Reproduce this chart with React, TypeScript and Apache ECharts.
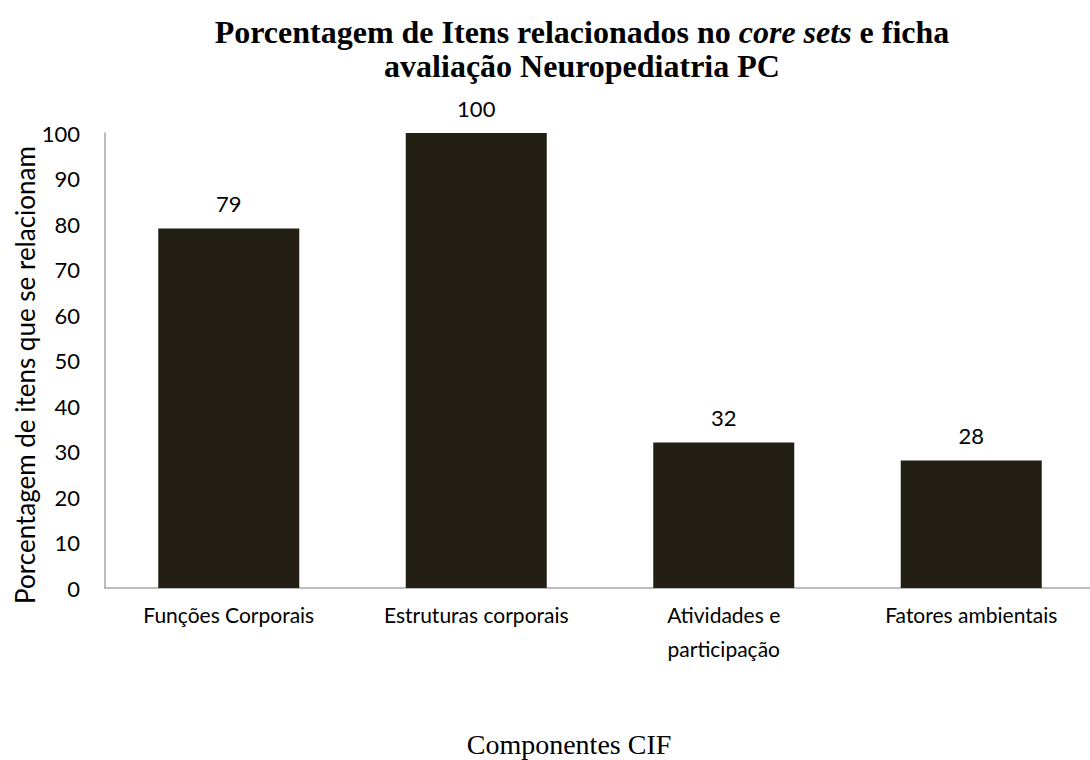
import React, { useEffect, useRef } from "react";
import * as echarts from "echarts";

const categories = ["Funções Corporais", "Estruturas corporais", "Atividades e\nparticipação", "Fatores ambientais"];
const values = [79, 100, 32, 28];
const yTicks = { min: 0, max: 100, interval: 10 };
const yAxisTitle = "Porcentagem de itens que se relacionam";
const xAxisTitle = "Componentes CIF";

export default function App() {
  const ref = useRef<HTMLDivElement>(null);
  useEffect(() => {
    if (!ref.current) return;
    const chart = echarts.init(ref.current, undefined, { renderer: "svg" });
    const sans = "Lato, 'Open Sans', sans-serif";
    const serif = "'Liberation Serif', 'Times New Roman', serif";
    chart.setOption({
      animation: false,
      backgroundColor: "#ffffff",
      title: {
        text: "{b|Porcentagem de Itens relacionados no }{i|core sets}{b| e ficha}\n{b|avaliação Neuropediatria PC}",
        left: 577,
        top: 10,
        textAlign: "center",
        textStyle: {
          rich: {
            b: { fontFamily: serif, fontWeight: "bold", fontSize: 32, color: "#000", lineHeight: 34 },
            i: { fontFamily: serif, fontWeight: "bold", fontStyle: "italic", fontSize: 32, color: "#000", lineHeight: 34 },
          },
        },
      },
      grid: { left: 105, right: -5, top: 133, bottom: 172, containLabel: false, outerBoundsMode: "none" },
      graphic: [
        {
          type: "text",
          x: 25,
          y: 375,
          rotation: Math.PI / 2,
          style: {
            text: yAxisTitle,
            fontFamily: sans,
            fontSize: 26,
            fill: "#000",
            align: "center",
            verticalAlign: "middle",
          },
        },
        {
          type: "text",
          x: 569,
          y: 744,
          style: {
            text: xAxisTitle,
            fontFamily: serif,
            fontSize: 28,
            fill: "#000",
            align: "center",
            verticalAlign: "middle",
          },
        },
      ],
      xAxis: {
        type: "category",
        data: categories,
        axisLine: { show: true, lineStyle: { color: "#a6a6a6", width: 1.5 } },
        axisTick: { show: false },
        axisLabel: {
          interval: 0,
          margin: 9,
          color: "#000",
          fontFamily: sans,
          fontSize: 21,
          lineHeight: 34,
        },
      },
      yAxis: {
        type: "value",
        min: yTicks.min,
        max: yTicks.max,
        interval: yTicks.interval,
        splitLine: { show: false },
        axisLine: { show: true, lineStyle: { color: "#a6a6a6", width: 1.5 } },
        axisTick: { show: false },
        axisLabel: { color: "#000", fontFamily: sans, fontSize: 22, margin: 25 },
      },
      series: [
        {
          type: "bar",
          data: values,
          barWidth: 141,
          itemStyle: { color: "#231f14" },
          label: {
            show: true,
            position: "top",
            distance: 14,
            color: "#000",
            fontFamily: sans,
            fontSize: 22,
          },
        },
      ],
    });
    return () => chart.dispose();
  }, []);
  return <div ref={ref} style={{ position: "fixed", left: 0, top: 0, width: 1090, height: 760 }} />;
}
